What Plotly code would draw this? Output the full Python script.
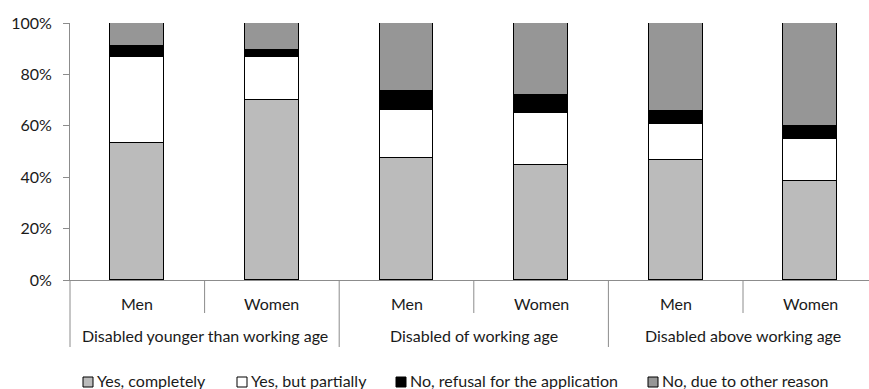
import plotly.graph_objects as go

# Survey shares (%) by disability group and gender
groups = ["Disabled younger than working age", "Disabled of working age", "Disabled above working age"]
genders = ["Men", "Women"]
series_names = ["Yes, completely", "Yes, but partially", "No, refusal for the application", "No, due to other reason"]
yes_completely = [53.2, 70.2, 47.5, 44.9, 46.6, 38.6]
yes_partially = [33.5, 16.5, 18.5, 20.2, 14.1, 16.4]
no_refusal = [4.2, 2.9, 7.7, 6.9, 5.2, 5.0]
no_other = [9.1, 10.4, 26.3, 28.0, 34.1, 40.0]
colors = ["#BBBBBB", "#FFFFFF", "#000000", "#969696"]

series_values = [yes_completely, yes_partially, no_refusal, no_other]
n = len(groups) * len(genders)
xs = list(range(n))
cat_labels = [g for _ in groups for g in genders]

FONT = "Lato, 'Open Sans', sans-serif"
FS = 16
TXT = "#1a1a1a"
AXIS = "#8c8c8c"

W, H = 869, 389
ML, MT, MB = 70, 23, 109
PW = W - ML
PH = H - MT - MB
X0, X1 = -0.5, -0.5 + PW / 134.6

fig = go.Figure()
for name, vals, col in zip(series_names, series_values, colors):
    fig.add_trace(go.Bar(
        x=xs, y=vals, name=name, width=0.4,
        marker=dict(color=col, line=dict(color="#000000", width=1.2)),
        showlegend=False,
    ))

def px_x(p):
    return (p - ML) / PW

def px_y(p):
    return (H - MB - p) / PH

def xd(v):
    return (v - X0) / (X1 - X0)

shapes = []
annotations = []

# Category divider lines below the axis
for i in range(n + 1):
    xv = i - 0.5
    if xv > X1:
        continue
    y_end = 347 if i % 2 == 0 else 313
    shapes.append(dict(type="line", xref="paper", yref="paper",
                       x0=xd(xv), x1=xd(xv), y0=0, y1=px_y(y_end),
                       line=dict(color=AXIS, width=1)))

# Gender labels and group labels
for i, lab in enumerate(cat_labels):
    annotations.append(dict(x=xd(i), y=px_y(303), xref="paper", yref="paper",
                            text=lab, showarrow=False, xanchor="center", yanchor="middle",
                            font=dict(family=FONT, size=FS, color=TXT)))
for j, g in enumerate(groups):
    annotations.append(dict(x=xd(2 * j + 0.5), y=px_y(335), xref="paper", yref="paper",
                            text=g, showarrow=False, xanchor="center", yanchor="middle",
                            font=dict(family=FONT, size=FS, color=TXT)))

# Legend row
legend_left = [83, 237, 396, 648]
for name, col, lx in zip(series_names, colors, legend_left):
    shapes.append(dict(type="rect", xref="paper", yref="paper",
                       x0=px_x(lx), x1=px_x(lx + 10), y0=px_y(387), y1=px_y(377),
                       fillcolor=col, line=dict(color="#000000", width=1)))
    annotations.append(dict(x=px_x(lx + 13), y=px_y(380), xref="paper", yref="paper",
                            text=name, showarrow=False, xanchor="left", yanchor="middle",
                            borderpad=0,
                            font=dict(family=FONT, size=FS, color=TXT)))

fig.update_layout(
    barmode="stack",
    width=W, height=H,
    margin=dict(l=ML, r=0, t=MT, b=MB, pad=0),
    paper_bgcolor="white", plot_bgcolor="white",
    shapes=shapes, annotations=annotations,
    xaxis=dict(range=[X0, X1], showticklabels=False, ticks="", showgrid=False,
               zeroline=False, showline=True, linecolor=AXIS, linewidth=1),
    yaxis=dict(range=[0, 100], tickvals=[0, 20, 40, 60, 80, 100],
               ticktext=["0%", "20%", "40%", "60%", "80%", "100%"],
               ticks="outside", ticklen=6, tickcolor=AXIS, showgrid=False,
               ticklabelstandoff=8,
               zeroline=False, showline=True, linecolor=AXIS, linewidth=1,
               tickfont=dict(family=FONT, size=FS, color=TXT)),
    bargap=0,
)

fig.write_html("out.html")
